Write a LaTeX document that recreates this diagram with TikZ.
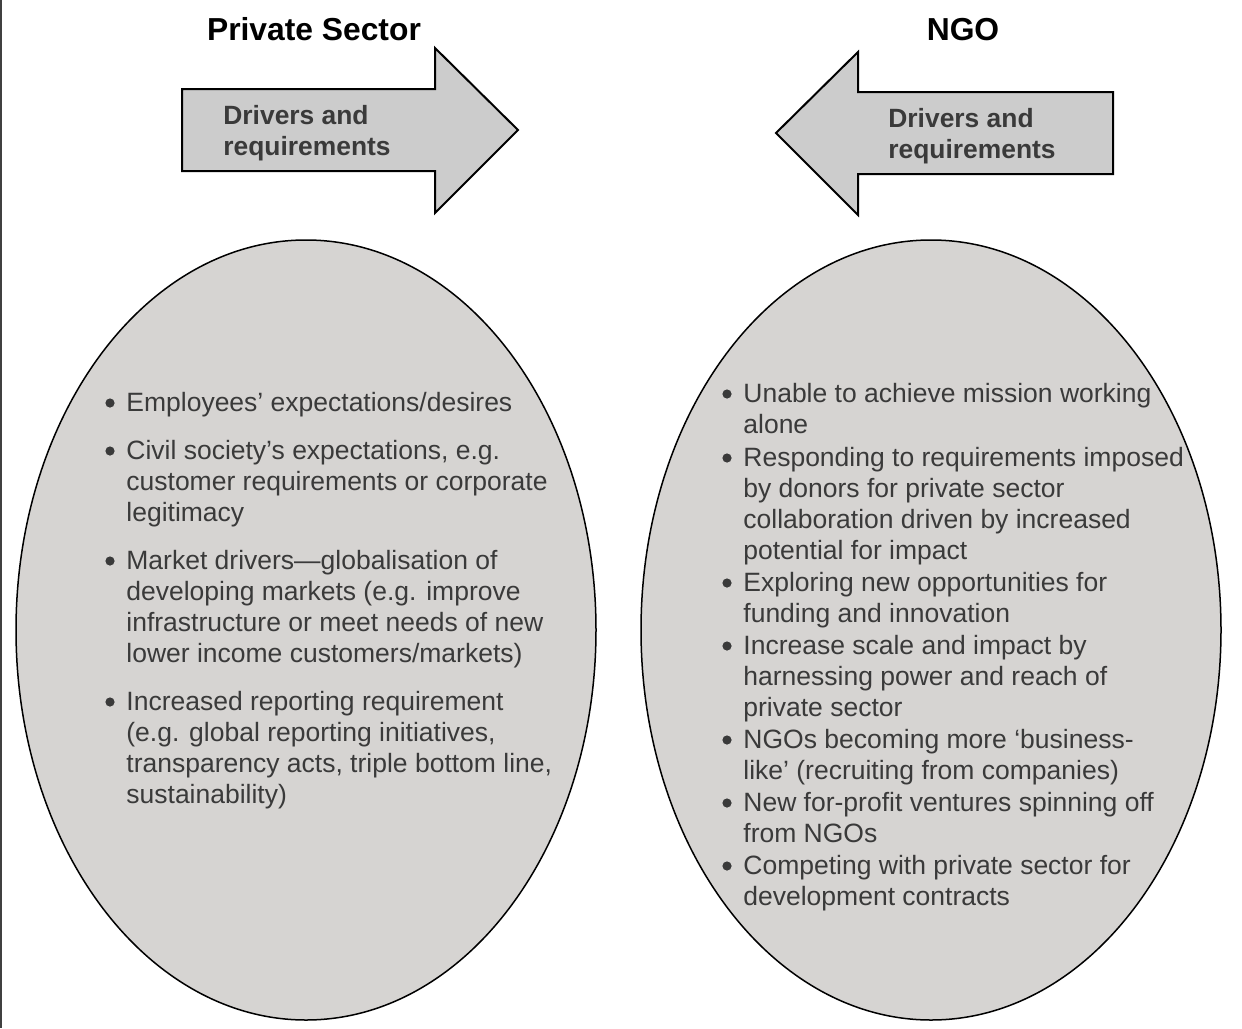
\documentclass[tikz,border=0pt]{standalone}
\usepackage{fontspec}
\setmainfont{Liberation Sans}
\usetikzlibrary{shapes.geometric}

\definecolor{arrowgray}{RGB}{204,204,204}
\definecolor{ovalgray}{RGB}{214,212,210}
\definecolor{txtgray}{RGB}{58,58,58}

\tikzset{
  title/.style={anchor=base,inner sep=0pt,font=\bfseries\fontsize{15.9}{19}\selectfont},
  headtxt/.style={anchor=north west,inner sep=0pt,align=left,text=txtgray,font=\bfseries\fontsize{13.2}{15.5}\selectfont},
  itemtxt/.style={anchor=north west,inner sep=0pt,align=left,text=txtgray,font=\fontsize{13.25}{15.5}\selectfont},
  bul/.style={circle,fill=txtgray,inner sep=0pt,minimum size=4.6pt},
  oval/.style={ellipse,draw,fill=ovalgray,line width=0.75pt,minimum width=290pt,minimum height=390pt},
}

\begin{document}
\begin{tikzpicture}[x=0.5pt,y=-0.5pt]
\useasboundingbox (0,0) rectangle (1242,1028);
\draw[line width=1pt,black!75] (1,0) -- (1,1028);

% titles
\node[title] (ps) at (314,40) {Private Sector};
\node[title] (ngo) at (963,40) {NGO};

% the two block arrows
\draw[fill=arrowgray,line width=1pt] (182,89) -- (435,89) -- (435,48) -- (518,130) -- (435,213) -- (435,171) -- (182,171) -- cycle;
\draw[fill=arrowgray,line width=1pt] (1113,92) -- (858,92) -- (858,52) -- (776,133) -- (858,215) -- (858,174) -- (1113,174) -- cycle;
\node[headtxt] (dl) at (223,102) {\strut Drivers and\\requirements};
\node[headtxt] (dr) at (888,105) {\strut Drivers and\\requirements};

% ovals
\node[oval] (lov) at (306,630) {};
\node[oval] (rov) at (931,630) {};

% private sector list
\node[itemtxt] (l1) at (126,389.3) {\strut Employees’ expectations/desires};
\node[itemtxt] (l2) at (126,437.3) {\strut Civil society’s expectations, e.g.\\customer requirements or corporate\\legitimacy};
\node[itemtxt] (l3) at (126,547.3) {\strut Market drivers—globalisation of\\developing markets (e.g. improve\\infrastructure or meet needs of new\\lower income customers/markets)};
\node[itemtxt] (l4) at (126,688.3) {\strut Increased reporting requirement\\(e.g. global reporting initiatives,\\transparency acts, triple bottom line,\\sustainability)};

% NGO list
\node[itemtxt] (r1) at (743,380.3) {\strut Unable to achieve mission working\\alone};
\node[itemtxt] (r2) at (743,444.3) {\strut Responding to requirements imposed\\by donors for private sector\\collaboration driven by increased\\potential for impact};
\node[itemtxt] (r3) at (743,569.3) {\strut Exploring new opportunities for\\funding and innovation};
\node[itemtxt] (r4) at (743,632.3) {\strut Increase scale and impact by\\harnessing power and reach of\\private sector};
\node[itemtxt] (r5) at (743,726.3) {\strut NGOs becoming more ‘business-\\like’ (recruiting from companies)};
\node[itemtxt] (r6) at (743,789.3) {\strut New for-profit ventures spinning off\\from NGOs};
\node[itemtxt] (r7) at (743,852.3) {\strut Competing with private sector for\\development contracts};

% bullets
\foreach \n in {l1,l2,l3,l4,r1,r2,r3,r4,r5,r6,r7}
  \node[bul] (b\n) at ([xshift=-8pt,yshift=-6.85pt]\n.north west) {};

\end{tikzpicture}
\end{document}
